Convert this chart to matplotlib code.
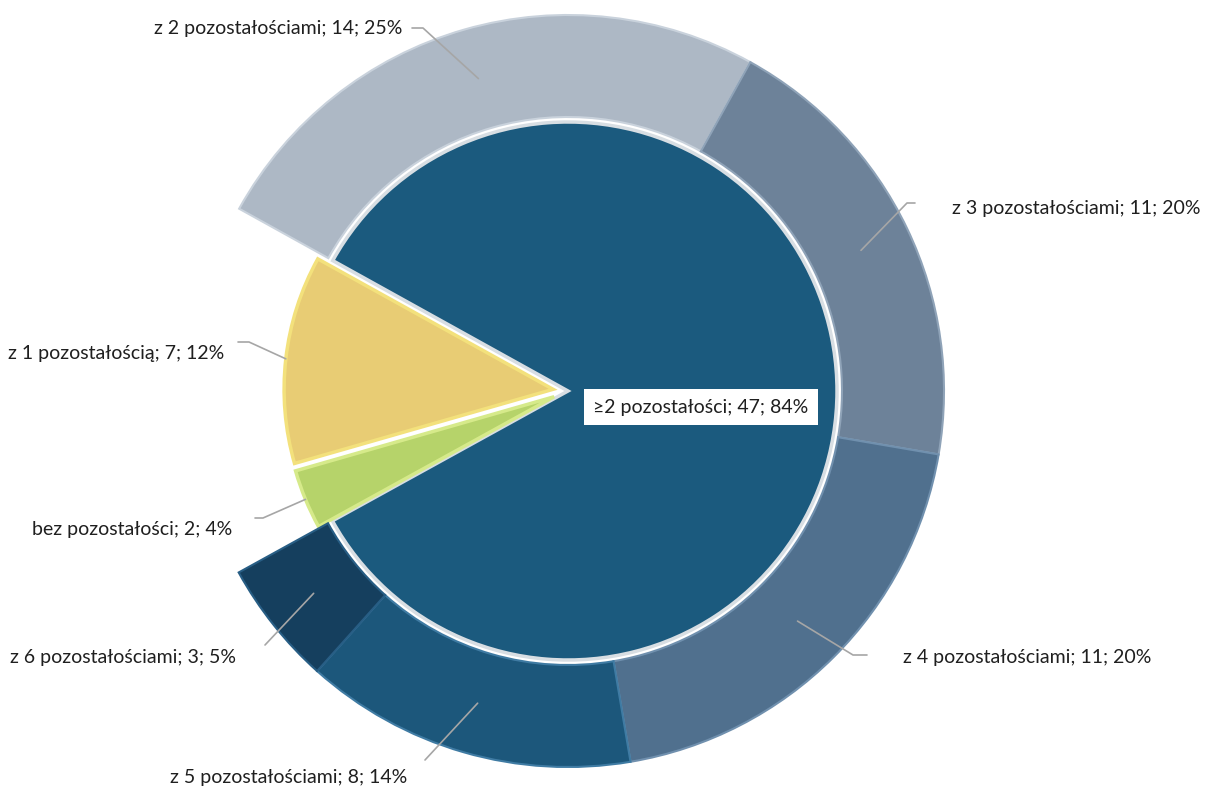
import numpy as np
import matplotlib
matplotlib.use("Agg")
from matplotlib import pyplot as plt

plt.rcParams['font.family'] = ['Lato', 'DejaVu Sans']

# inner pie: all samples
inner_names = ["≥2 pozostałości", "bez pozostałości", "z 1 pozostałością"]
inner_counts = [47, 2, 7]
inner_pct = [84, 4, 12]
inner_colors = ["#1B5A7E", "#B6D36A", "#E8CC74"]
inner_edges = ["#D8DEE3", "#D6EA8A", "#F3E17C"]

# outer ring: split of the ">=2" group
outer_names = ["z 2 pozostałościami", "z 3 pozostałościami", "z 4 pozostałościami",
               "z 5 pozostałościami", "z 6 pozostałościami"]
outer_counts = [14, 11, 11, 8, 3]
outer_pct = [25, 20, 20, 14, 5]
outer_colors = ["#ADB8C5", "#6D8299", "#50708E", "#1C577B", "#153F5E"]
outer_edges = ["#C9D2DC", "#8FA3B8", "#7090AE", "#3F7BA3", "#285E85"]

total = sum(inner_counts)

W, H = 1207, 789
fig = plt.figure(figsize=(W / 100, H / 100), dpi=100)
ax = fig.add_axes([0, 0, 1, 1])

cx, cy = 568, H - 391
r_in = 269
r_out = 376
ring_w = 102
start = 151

inner_wedges, _ = ax.pie(inner_counts, colors=inner_colors, startangle=start,
                         counterclock=False, radius=r_in, center=(cx, cy),
                         explode=[0, 15, 15], frame=True,
                         wedgeprops=dict(linewidth=2.5))
for w, ec in zip(inner_wedges, inner_edges):
    w.set_edgecolor(ec)

outer_wedges, _ = ax.pie([c / total for c in outer_counts], normalize=False,
                         colors=outer_colors, startangle=start, counterclock=False,
                         radius=r_out, center=(cx, cy), frame=True,
                         wedgeprops=dict(width=ring_w, linewidth=1.5))
for w, ec in zip(outer_wedges, outer_edges):
    w.set_edgecolor(ec)

ax.set_xlim(0, W)
ax.set_ylim(0, H)
ax.set_aspect('equal')
ax.axis('off')

txt_kw = dict(fontsize=14, color="#1F1F1F", va='center')
line_kw = dict(color="#A6A6A6", linewidth=1.2, solid_capstyle='round')


def mid_point(w, r):
    th = np.deg2rad((w.theta1 + w.theta2) / 2)
    return w.center[0] + r * np.cos(th), w.center[1] + r * np.sin(th)


# label text anchor (x, y from top), alignment, leader path points before the wedge
outer_layout = [
    ((402, 28), 'right', [(412, 28), (423, 28)]),
    ((952, 208), 'left', [(915, 203), (907, 203)]),
    ((903, 657), 'left', [(867, 655), (853, 655)]),
    ((170, 778), 'left', [(425, 760)]),
    ((10, 657), 'left', [(265, 645)]),
]
for w, name, n, p, (pos, ha, path) in zip(outer_wedges, outer_names, outer_counts,
                                         outer_pct, outer_layout):
    ax.text(pos[0], H - pos[1], f"{name}; {n}; {p}%", ha=ha, **txt_kw)
    ex, ey = mid_point(w, r_out - ring_w / 2)
    xs = [q[0] for q in path] + [ex]
    ys = [H - q[1] for q in path] + [ey]
    ax.plot(xs, ys, **line_kw)

inner_layout = [
    None,
    ((32, 530), 'left', [(255, 518), (263, 518)]),
    ((8, 353), 'left', [(238, 342), (249, 342)]),
]
for w, name, n, p, lay in zip(inner_wedges, inner_names, inner_counts,
                              inner_pct, inner_layout):
    text = f"{name}; {n}; {p}%"
    if lay is None:
        ax.text(701, H - 407, text, ha='center', **txt_kw,
                bbox=dict(boxstyle='square,pad=0.5', facecolor='white',
                          edgecolor='none'))
        continue
    pos, ha, path = lay
    ax.text(pos[0], H - pos[1], text, ha=ha, **txt_kw)
    ex, ey = mid_point(w, r_in)
    xs = [q[0] for q in path] + [ex]
    ys = [H - q[1] for q in path] + [ey]
    ax.plot(xs, ys, **line_kw)

plt.savefig('out.png', dpi=100)
